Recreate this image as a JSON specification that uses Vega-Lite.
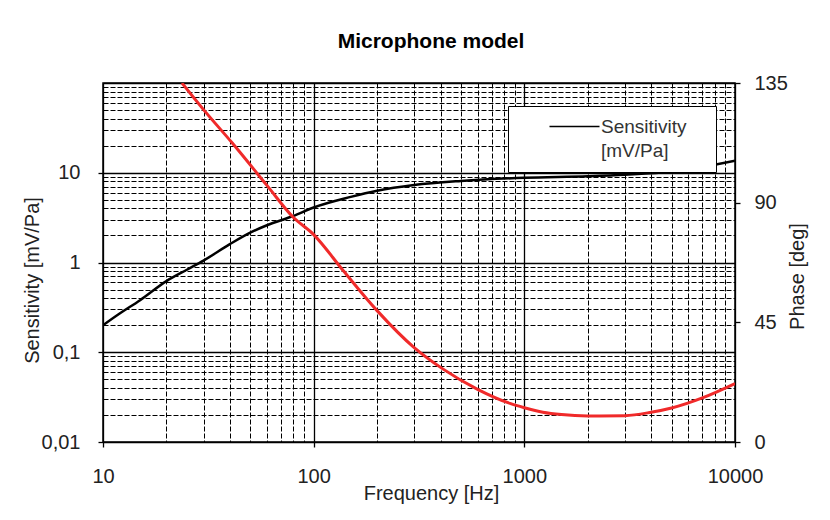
{
  "$schema": "https://vega.github.io/schema/vega-lite/v6.json",
  "width": 632,
  "height": 359,
  "autosize": {"type": "none"},
  "padding": {"left": 103, "top": 83, "right": 95, "bottom": 78},
  "background": "white",
  "config": {"view": {"stroke": "black", "strokeWidth": 1.5}, "font": "Liberation Sans"},
  "title": {"text": "Microphone model", "font": "Liberation Sans", "fontSize": 21, "fontWeight": "bold", "color": "black", "anchor": "middle", "dx": 12, "offset": 4, "baseline": "alphabetic"},
  "datasets": {
    "sens": [
      {"f": 10, "s": 0.2}, {"f": 12, "s": 0.27}, {"f": 15, "s": 0.38}, {"f": 20, "s": 0.62},
      {"f": 25, "s": 0.83}, {"f": 30, "s": 1.05}, {"f": 40, "s": 1.6}, {"f": 50, "s": 2.15},
      {"f": 60, "s": 2.6}, {"f": 80, "s": 3.3}, {"f": 100, "s": 4.1}, {"f": 150, "s": 5.38},
      {"f": 200, "s": 6.3}, {"f": 300, "s": 7.3}, {"f": 500, "s": 8.1}, {"f": 1000, "s": 8.8},
      {"f": 2000, "s": 9.15}, {"f": 3000, "s": 9.5}, {"f": 5000, "s": 10.3}, {"f": 7000, "s": 11.6},
      {"f": 10000, "s": 13.6}
    ],
    "phase": [
      {"f": 23.7, "p": 135}, {"f": 30, "p": 125}, {"f": 41, "p": 112.5}, {"f": 60, "p": 96.5},
      {"f": 80, "p": 84.5}, {"f": 100, "p": 78}, {"f": 138, "p": 64.5}, {"f": 200, "p": 49.4},
      {"f": 300, "p": 35.5}, {"f": 410, "p": 27.5}, {"f": 600, "p": 19.8}, {"f": 855, "p": 14.5},
      {"f": 1000, "p": 12.9}, {"f": 1225, "p": 11.2}, {"f": 1500, "p": 10.3}, {"f": 2000, "p": 9.8},
      {"f": 3000, "p": 9.9}, {"f": 4000, "p": 11.2}, {"f": 5000, "p": 12.8}, {"f": 7000, "p": 16.6},
      {"f": 10000, "p": 22}
    ]
  },
  "layer": [
    {
      "data": {"name": "sens"},
      "mark": {"type": "line", "strokeWidth": 2.5, "clip": true, "interpolate": "monotone"},
      "encoding": {
        "x": {
          "field": "f", "type": "quantitative",
          "scale": {"type": "log", "domain": [10, 10000]},
          "axis": {
            "values": [10, 20, 30, 40, 50, 60, 70, 80, 90, 100, 200, 300, 400, 500, 600, 700, 800, 900, 1000, 2000, 3000, 4000, 5000, 6000, 7000, 8000, 9000, 10000],
            "title": "Frequency [Hz]",
            "domain": false,
            "grid": true, "gridColor": "black", "gridOpacity": 1,
            "gridWidth": {"condition": {"test": "indexof([10,100,1000,10000], datum.value) >= 0", "value": 1.3}, "value": 1},
            "gridDash": {"condition": {"test": "indexof([10,100,1000,10000], datum.value) >= 0", "value": []}, "value": [5, 2]},
            "tickColor": "black", "tickSize": 5, "tickWidth": 1.3,
            "tickOpacity": {"condition": {"test": "indexof([10,100,1000,10000], datum.value) >= 0", "value": 1}, "value": 0},
            "labelExpr": "indexof([10,100,1000,10000], datum.value) >= 0 ? format(datum.value, 'd') : ''",
            "labelOverlap": false, "labelFlush": false,
            "labelFont": "Liberation Sans", "labelFontSize": 20, "labelColor": "#222", "labelPadding": 19,
            "titleFont": "Liberation Sans", "titleFontSize": 20, "titleFontWeight": "normal", "titleColor": "#222",
            "titleX": 328, "titleY": 41, "titleBaseline": "top", "titleAlign": "center"
          }
        },
        "y": {
          "field": "s", "type": "quantitative",
          "scale": {"type": "log", "domain": [0.01, 100]},
          "axis": {
            "values": [0.01, 0.02, 0.03, 0.04, 0.05, 0.06, 0.07, 0.08, 0.09, 0.1, 0.2, 0.3, 0.4, 0.5, 0.6, 0.7, 0.8, 0.9, 1, 2, 3, 4, 5, 6, 7, 8, 9, 10, 20, 30, 40, 50, 60, 70, 80, 90, 100],
            "title": "Sensitivity [mV/Pa]",
            "domain": false,
            "grid": true, "gridColor": "black", "gridOpacity": 1,
            "gridWidth": {"condition": {"test": "indexof([0.01,0.1,1,10,100], datum.value) >= 0", "value": 1.3}, "value": 1},
            "gridDash": {"condition": {"test": "indexof([0.01,0.1,1,10,100], datum.value) >= 0", "value": []}, "value": [5, 2]},
            "tickColor": "black", "tickSize": 5, "tickWidth": 1.3,
            "tickOpacity": {"condition": {"test": "indexof([0.01,0.1,1,10], datum.value) >= 0", "value": 1}, "value": 0},
            "labelExpr": "datum.value == 0.01 ? '0,01' : datum.value == 0.1 ? '0,1' : datum.value == 1 ? '1' : datum.value == 10 ? '10' : ''",
            "labelOverlap": false, "labelFlush": false,
            "labelFont": "Liberation Sans", "labelFontSize": 20, "labelColor": "#222", "labelPadding": 18,
            "titleFont": "Liberation Sans", "titleFontSize": 20, "titleFontWeight": "normal", "titleColor": "#222",
            "titleX": -71, "titleY": 197, "titleAngle": 270, "titleBaseline": "middle", "titleAlign": "center"
          }
        },
        "color": {
          "datum": "Sensitivity [mV/Pa]",
          "scale": {"range": ["black"]},
          "legend": {
            "orient": "none", "legendX": 405, "legendY": 23,
            "title": "\u00a0", "titleOrient": "right", "titlePadding": 18, "titleFontSize": 1,
            "fillColor": "white", "strokeColor": "black", "padding": 11,
            "symbolType": "M-5,0H5", "symbolSize": 100, "symbolStrokeWidth": 1.5, "symbolStrokeColor": "black", "symbolFillColor": "transparent", "symbolOffset": 46,
            "labelExpr": "['Sensitivity', '[mV/Pa]']",
            "labelFont": "Liberation Sans", "labelFontSize": 19, "labelColor": "#333", "labelOffset": 17,
            "labelBaseline": "alphabetic",
            "encode": {"labels": {"update": {"lineHeight": {"value": 24}, "dy": {"value": 6}}}}
          }
        }
      }
    },
    {
      "data": {"name": "phase"},
      "mark": {"type": "line", "color": "#f02a2a", "strokeWidth": 3, "clip": true, "interpolate": "monotone"},
      "encoding": {
        "x": {"field": "f", "type": "quantitative", "scale": {"type": "log", "domain": [10, 10000]}},
        "y": {
          "field": "p", "type": "quantitative",
          "scale": {"domain": [0, 135]},
          "axis": {
            "orient": "right",
            "values": [0, 45, 90, 135],
            "title": "Phase [deg]",
            "domain": false, "grid": false,
            "tickColor": "black", "tickSize": 5, "tickWidth": 1.3,
            "labelFont": "Liberation Sans", "labelFontSize": 20, "labelColor": "#222", "labelPadding": 14,
            "labelOverlap": false, "labelFlush": false,
            "titleFont": "Liberation Sans", "titleFontSize": 20, "titleFontWeight": "normal", "titleColor": "#222",
            "titleX": 62, "titleY": 193, "titleAngle": 270, "titleBaseline": "middle", "titleAlign": "center"
          }
        }
      }
    }
  ],
  "resolve": {"scale": {"y": "independent"}}
}
